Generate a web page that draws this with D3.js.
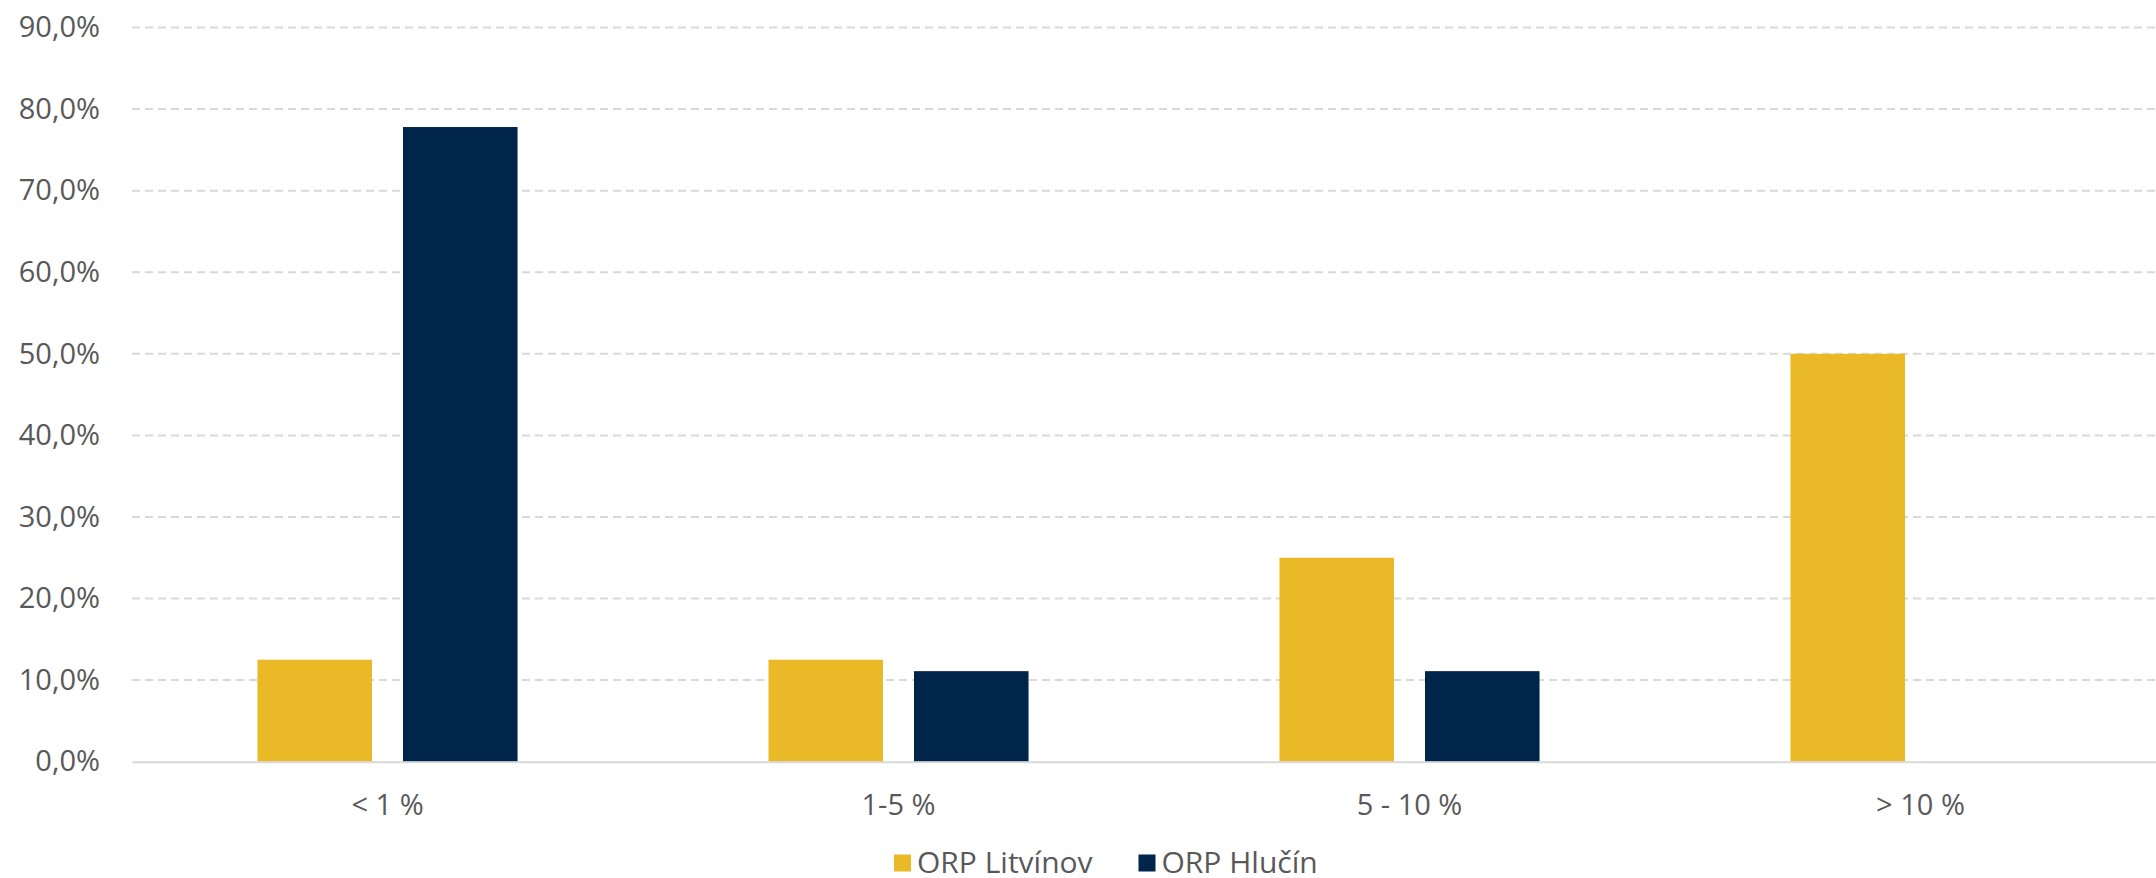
<!DOCTYPE html>
<html>
<head>
<meta charset="utf-8">
<script src="https://cdn.jsdelivr.net/npm/d3@7"></script>
<style>
  body { margin: 0; background: #fff; }
  svg { display: block; font-family: "Open Sans", "Noto Sans", sans-serif; }
</style>
</head>
<body>
<div id="bar_chart"></div>
<script>
// data
const categories = ["< 1 %", "1-5 %", "5 - 10 %", "> 10 %"];
const seriesNames = ["ORP Litvínov", "ORP Hlučín"];
const litvinov = [0.125, 0.125, 0.25, 0.5];
const hlucin = [0.778, 0.111, 0.111, 0];
const yTicks = [0, 0.1, 0.2, 0.3, 0.4, 0.5, 0.6, 0.7, 0.8, 0.9];
const colors = ["#E9B927", "#00254A"];

// set the dimensions and margins of the graph
const W = 2156, H = 878;
const margin = {top: 27.5, left: 132},
    width = 2044,
    height = 734.2;

const svg = d3.select("#bar_chart")
  .append("svg")
    .attr("width", W)
    .attr("height", H)
  .append("g")
    .attr("transform", `translate(${margin.left},${margin.top})`);

const czLocale = d3.formatLocale({decimal: ",", thousands: " ", grouping: [3], currency: ["", " Kč"]});
const fmt = czLocale.format(".1%");

// scales
const x0 = d3.scaleBand()
  .domain(categories)
  .range([0, width])
  .padding(0);

const x1 = d3.scaleBand()
  .domain(seriesNames)
  .range([0, x0.bandwidth()])
  .paddingInner(0.213)
  .paddingOuter(0.862);

const y = d3.scaleLinear()
  .domain([0, 0.9])
  .range([height, 0]);

// gridlines
svg.append("g")
  .selectAll("line")
  .data(yTicks.slice(1))
  .join("line")
    .attr("x1", 0)
    .attr("x2", width)
    .attr("y1", d => y(d))
    .attr("y2", d => y(d))
    .attr("stroke", "#d9d9d9")
    .attr("stroke-width", 2)
    .style("stroke-dasharray", "8,5");

// Y axis labels
const yAxis = svg.append("g")
  .attr("transform", "translate(-32,0)")
  .call(d3.axisLeft(y).tickValues(yTicks).tickFormat(fmt).tickSize(0).tickPadding(0));
yAxis.select(".domain").remove();
yAxis.selectAll("text")
  .attr("fill", "#595959")
  .style("font-size", "29px")
  .style("font-family", "'Open Sans', 'Noto Sans', sans-serif");

// bars
const rows = categories.map((c, i) => ({cat: c, values: [litvinov[i], hlucin[i]]}));

svg.append("g")
  .selectAll("g")
  .data(rows)
  .join("g")
    .attr("transform", d => `translate(${x0(d.cat)},0)`)
  .selectAll("rect")
  .data(d => d.values.map((v, j) => ({name: seriesNames[j], value: v, j: j})))
  .join("rect")
    .attr("x", d => x1(d.name))
    .attr("y", d => y(d.value))
    .attr("width", x1.bandwidth())
    .attr("height", d => y(0) - y(d.value))
    .style("fill", d => colors[d.j]);

// baseline + x labels
const xAxis = svg.append("g")
  .attr("transform", `translate(0,${height})`)
  .call(d3.axisBottom(x0).tickSize(0).tickPadding(33));
xAxis.select(".domain")
  .attr("stroke", "#d9d9d9")
  .attr("stroke-width", 2);
xAxis.selectAll("text")
  .attr("fill", "#595959")
  .style("font-size", "29px")
  .style("font-family", "'Open Sans', 'Noto Sans', sans-serif");

// legend
const legend = d3.select("#bar_chart svg").append("g")
  .attr("transform", "translate(894,863)");
const legendX = [0, 244.5];
const items = legend.selectAll("g")
  .data(seriesNames)
  .join("g")
    .attr("transform", (d, i) => `translate(${legendX[i]},0)`);
items.append("rect")
  .attr("x", 0)
  .attr("y", -8.5)
  .attr("width", 17)
  .attr("height", 17)
  .style("fill", (d, i) => colors[i]);
items.append("text")
  .attr("x", 23)
  .attr("y", 10)
  .attr("fill", "#595959")
  .style("font-size", "30px")
  .text(d => d);
</script>
</body>
</html>
